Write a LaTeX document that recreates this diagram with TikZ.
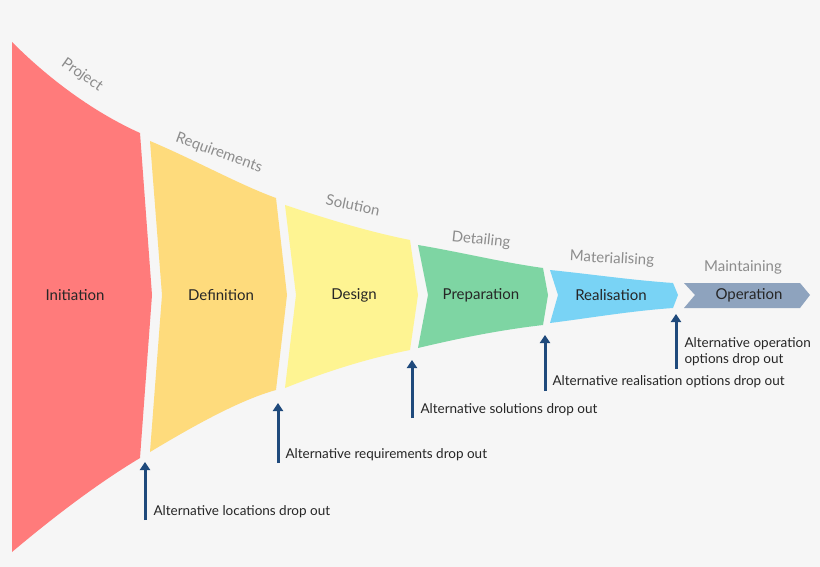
\documentclass[tikz,border=0pt]{standalone}
\usepackage{fontspec}
\setmainfont{Lato}
\usetikzlibrary{arrows.meta}
\definecolor{bg}{HTML}{F6F6F6}
\definecolor{c1}{HTML}{FF7B7B}
\definecolor{c2}{HTML}{FEDB7C}
\definecolor{c3}{HTML}{FEF492}
\definecolor{c4}{HTML}{7ED5A3}
\definecolor{c5}{HTML}{79D3F5}
\definecolor{c6}{HTML}{8EA3BE}
\definecolor{arr}{HTML}{1F4A7C}
\definecolor{lab}{HTML}{8C8C8C}
\begin{document}
\begin{tikzpicture}[x=1pt,y=-1pt,
  stage/.style={font=\fontsize{15}{17}\selectfont, text=black!85},
  phase/.style={font=\fontsize{15}{17}\selectfont, text=lab},
  note/.style={font=\fontsize{13.5}{16}\selectfont, text=black!85, anchor=west, align=left},
  up/.style={draw=arr, line width=3pt, -{Triangle[length=8pt,width=10pt]}}]
\fill[bg] (0,0) rectangle (820,567);
\useasboundingbox (0,0) rectangle (820,567);
% shapes
\fill[c1] (12,42) .. controls (55,85) and (100,115) .. (140,133) -- (152,295) -- (140,458) .. controls (95,485) and (50,520) .. (12,552) -- cycle;
\fill[c2] (150,141) .. controls (195,160) and (240,185) .. (276,198) -- (287,295) -- (276,390) .. controls (240,400) and (195,425) .. (150,452) -- (162,295) -- cycle;
\fill[c3] (285,205) .. controls (330,220) and (370,232) .. (410,240) -- (418,295) -- (410,350) .. controls (370,358) and (330,370) .. (285,388) -- (296,295) -- cycle;
\fill[c4] (418,245) .. controls (460,252) and (500,262) .. (543,268) -- (548,295) -- (543,325) .. controls (500,330) and (460,338) .. (418,348) -- (428,295) -- cycle;
\fill[c5] (550,270) .. controls (590,274) and (630,280) .. (673,283) -- (678,295) -- (673,308) .. controls (630,311) and (590,318) .. (550,323) -- (558,295) -- cycle;
\fill[c6] (684,283) -- (800,283) -- (810,295) -- (800,308) -- (684,308) -- (695,295) -- cycle;
% stage labels
\node[stage] (s1) at (75,295) {Initiation};
\node[stage] (s2) at (221,295) {Definition};
\node[stage] (s3) at (354,295) {Design};
\node[stage] (s4) at (481,295) {Preparation};
\node[stage] (s5) at (611,295) {Realisation};
\node[stage] (s6) at (749,295) {Operation};
% phase labels
\node[phase, rotate=-35] (p1) at (82,75) {Project};
\node[phase, rotate=-20] (p2) at (219,153) {Requirements};
\node[phase, rotate=-12] (p3) at (353,205) {Solution};
\node[phase, rotate=-6] (p4) at (481,240) {Detailing};
\node[phase, rotate=-3] (p5) at (612,259) {Materialising};
\node[phase] (p6) at (743,267) {Maintaining};
% arrows
\coordinate (a1) at (145,520); \coordinate (b1) at (145,462);
\coordinate (a2) at (278,463); \coordinate (b2) at (278,403);
\coordinate (a3) at (412,418); \coordinate (b3) at (412,360);
\coordinate (a4) at (545,391); \coordinate (b4) at (545,335);
\coordinate (a5) at (676,369); \coordinate (b5) at (676,314);
\foreach \i in {1,...,5} \draw[up] (a\i) -- (b\i);
\node[note] (n1) at (150,512) {Alternative locations drop out};
\node[note] (n2) at (282,455) {Alternative requirements drop out};
\node[note] (n3) at (417,410) {Alternative solutions drop out};
\node[note] (n4) at (549,382) {Alternative realisation options drop out};
\node[note] (n5) at (681,352) {Alternative operation\\options drop out};
\end{tikzpicture}
\end{document}
